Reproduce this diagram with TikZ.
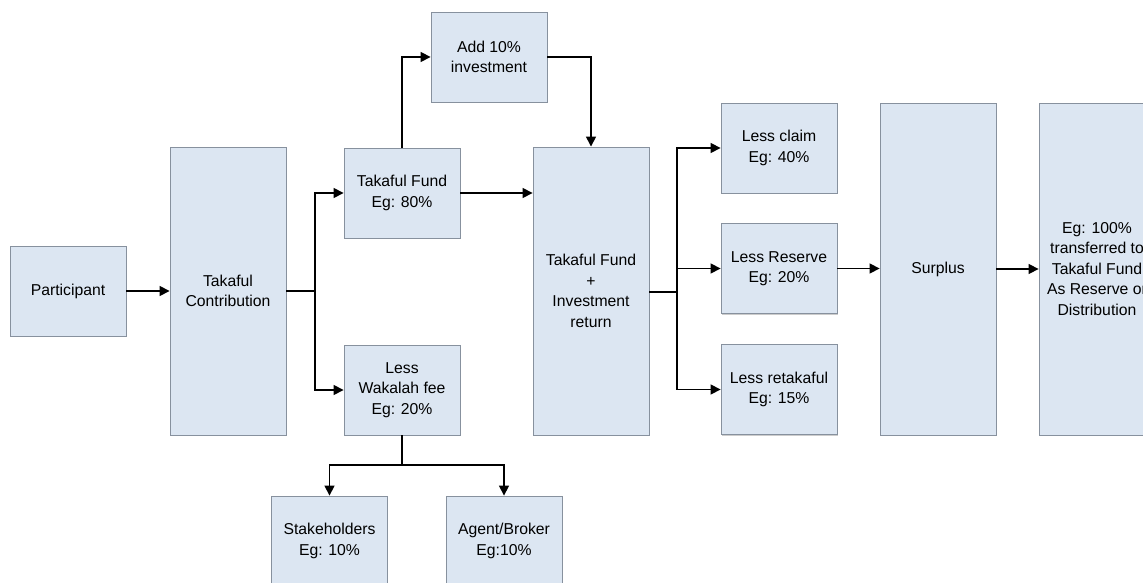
\documentclass[tikz,border=0pt]{standalone}
\usepackage{fontspec}
\setmainfont{Liberation Sans}
\usetikzlibrary{arrows.meta,positioning,shadows}

\definecolor{boxfill}{RGB}{220,230,242}
\definecolor{boxline}{RGB}{135,145,158}

\begin{document}
\begin{tikzpicture}[x=0.025cm,y=-0.025cm,
    block/.style={rectangle,draw=boxline,fill=boxfill,line width=0.6pt,
      minimum width=2.9cm,minimum height=2.25cm,align=center,inner sep=2pt,
      font=\fontsize{11.2}{14.6}\selectfont,
      drop shadow={shadow xshift=0.6pt,shadow yshift=-0.9pt,opacity=0.2,fill=black}},
    tall/.style={block,minimum height=7.2cm},
    taller/.style={block,minimum height=8.3cm},
    link/.style={line width=1.1pt},
    arr/.style={link,-{Triangle[length=7pt,width=7pt]}}]
        \useasboundingbox (0,0) rectangle (1143,583);
        \clip (0,0) rectangle (1143,583);

        \node[block] (part) at (68,291) {Participant};
        \node[tall] (contrib) at (228,291) {Takaful\\Contribution};
        \node[block] (fund) at (402,193) {Takaful Fund\\Eg: 80\%};
        \node[block] (add) at (489,57) {Add 10\%\\investment};
        \node[block] (wakalah) at (402,390) {Less\\Wakalah fee\\Eg: 20\%};
        \node[tall] (tfinv) at (591,291) {Takaful Fund\\+\\Investment\\return};
        \node[block] (claim) at (779,148) {Less claim\\Eg: 40\%};
        \node[block] (reserve) at (779,268.5) {Less Reserve\\Eg: 20\%};
        \node[block] (retak) at (779,389.5) {Less retakaful\\Eg: 15\%};
        \node[taller] (surplus) at (938,269) {Surplus};
        \node[taller] (final) at (1097,269) {Eg: 100\%\\transferred to\\Takaful Fund\\As Reserve or\\Distribution};
        \node[block] (stake) at (329.5,541) {Stakeholders\\Eg: 10\%};
        \node[block] (agent) at (504,541) {Agent/Broker\\Eg:10\%};

        \coordinate (j1) at (315,291);
        \coordinate (j2) at (677,292);
        \coordinate (j3) at (402,465);

        \draw[arr] (part) -- (contrib);
        \draw[link] (contrib.east) -- (j1);
        \draw[arr] (j1) |- (fund.west);
        \draw[arr] (j1) |- (wakalah.west);
        \draw[arr] (fund.north) |- (add.west);
        \draw[arr] (add.east) -| (tfinv.north);
        \draw[arr] (fund.east) -- (fund.east -| tfinv.west);
        \draw[link] (tfinv.east |- j2) -- (j2);
        \draw[arr] (j2) |- (claim.west);
        \draw[arr] (j2) |- (reserve.west);
        \draw[arr] (j2) |- (retak.west);
        \draw[arr] (reserve.east) -- (reserve.east -| surplus.west);
        \draw[arr] (surplus) -- (final);
        \draw[link] (wakalah.south) -- (j3);
        \draw[arr] (j3) -| (stake.north);
        \draw[arr] (j3) -| (agent.north);
    \end{tikzpicture}
\end{document}
